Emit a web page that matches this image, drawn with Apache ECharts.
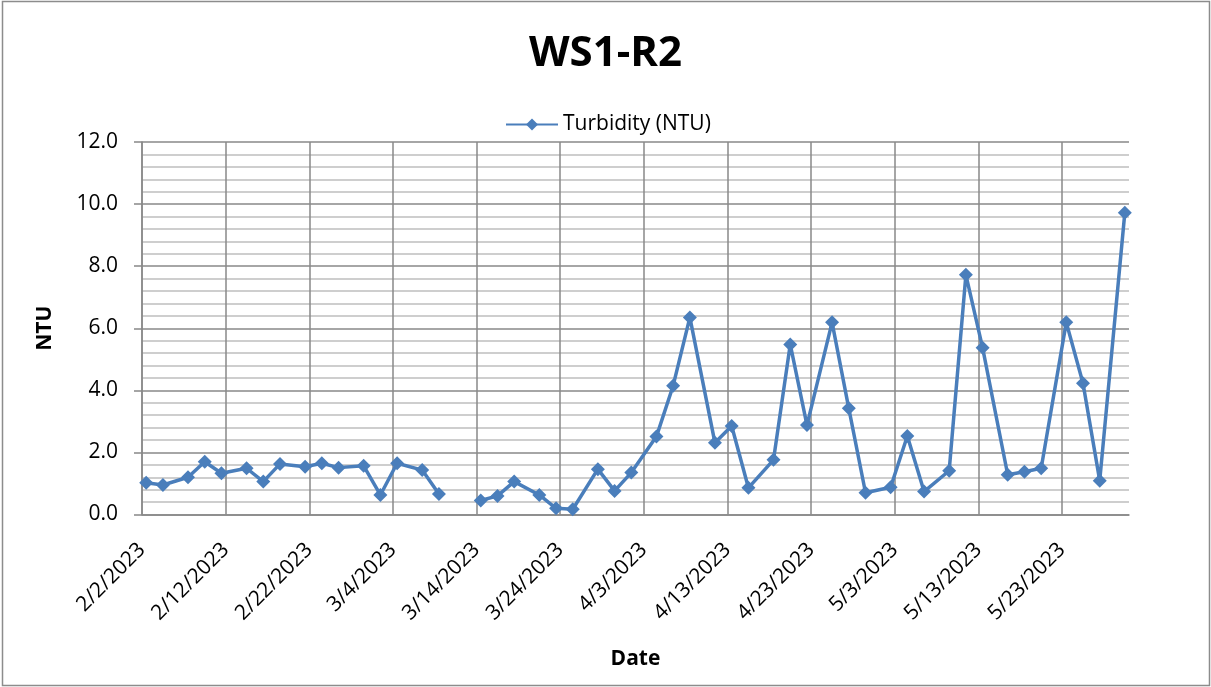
<!DOCTYPE html>
<html>
<head>
<meta charset="utf-8">
<script src="https://cdn.jsdelivr.net/npm/echarts@6/dist/echarts.min.js"></script>
<style>
  html, body { margin: 0; padding: 0; background: #fff; }
  #WS1Chart { width: 1211px; height: 687px; }
</style>
</head>
<body>
<div id="WS1Chart"></div>
<script>
// sample dates (blank entry on 3/11 breaks the line like the source sheet)
const dates = [
  '2/2/2023', '2/4/2023', '2/7/2023', '2/9/2023', '2/11/2023', '2/14/2023',
  '2/16/2023', '2/18/2023', '2/21/2023', '2/23/2023', '2/25/2023', '2/28/2023',
  '3/2/2023', '3/4/2023', '3/7/2023', '3/9/2023', '3/11/2023', '3/14/2023',
  '3/16/2023', '3/18/2023', '3/21/2023', '3/23/2023', '3/25/2023', '3/28/2023',
  '3/30/2023', '4/1/2023', '4/4/2023', '4/6/2023', '4/8/2023', '4/11/2023',
  '4/13/2023', '4/15/2023', '4/18/2023', '4/20/2023', '4/22/2023', '4/25/2023',
  '4/27/2023', '4/29/2023', '5/2/2023', '5/4/2023', '5/6/2023', '5/9/2023',
  '5/11/2023', '5/13/2023', '5/16/2023', '5/18/2023', '5/20/2023', '5/23/2023',
  '5/25/2023', '5/27/2023', '5/30/2023'
];
const turbidity = [
  1.02, 0.95, 1.20, 1.70, 1.33, 1.49,
  1.06, 1.63, 1.54, 1.65, 1.51, 1.57,
  0.63, 1.65, 1.43, 0.66, null, 0.45,
  0.60, 1.06, 0.63, 0.20, 0.17, 1.46,
  0.76, 1.35, 2.51, 4.15, 6.35, 2.31,
  2.85, 0.86, 1.76, 5.48, 2.88, 6.19,
  3.42, 0.70, 0.88, 2.53, 0.74, 1.41,
  7.72, 5.37, 1.28, 1.38, 1.49, 6.19,
  4.23, 1.09, 9.72
];
const startDate = '2/2/2023';
const dayCount = 118;
const dayStep = 10;

const DAY = 86400000;
const toUTC = (s) => {
  const [m, d, y] = s.split('/').map(Number);
  return Date.UTC(y, m - 1, d);
};
const t0 = toUTC(startDate);
// each date sits in the middle of its day slot
const seriesData = dates.map((d, i) => [
  (toUTC(d) - t0) / DAY + 0.5,
  turbidity[i] == null ? '-' : turbidity[i]
]);

const fmtDay = (v) => {
  if (v % dayStep !== 0) return '';
  const dt = new Date(t0 + v * DAY);
  return (dt.getUTCMonth() + 1) + '/' + dt.getUTCDate() + '/' + dt.getUTCFullYear();
};

const FONT = "'Open Sans', sans-serif";
const chart = echarts.init(document.getElementById('WS1Chart'));

const option = {
  backgroundColor: '#fff',
  animation: false,
  color: ['#4A7EBB'],
  graphic: [{
    type: 'rect',
    shape: { x: 2.5, y: 1.5, width: 1207, height: 684 },
    style: { fill: 'none', stroke: '#8c8c8c', lineWidth: 1.5 },
    silent: true
  }],
  title: {
    text: 'WS1-R2',
    left: 'center',
    top: 28,
    textStyle: { fontFamily: FONT, fontSize: 42, fontWeight: 'bold', color: '#000' }
  },
  legend: {
    top: 109,
    left: 500,
    itemWidth: 52,
    itemHeight: 15,
    itemGap: 5,
    textStyle: { fontFamily: FONT, fontSize: 21, color: '#000' }
  },
  grid: { left: 142, right: 82, top: 142, bottom: 172.5, containLabel: false },
  xAxis: {
    type: 'value',
    min: 0,
    max: dayCount,
    interval: dayStep,
    name: 'Date',
    nameLocation: 'middle',
    nameGap: 134,
    nameTextStyle: { fontFamily: FONT, fontSize: 21, fontWeight: 'bold', color: '#000' },
    axisLine: { show: true, lineStyle: { color: '#888', width: 1.5 } },
    axisTick: { show: false },
    axisLabel: {
      rotate: 45,
      margin: 32,
      showMaxLabel: false,
      fontFamily: FONT,
      fontSize: 21,
      color: '#000',
      formatter: fmtDay
    },
    splitLine: { show: true, showMaxLine: false, lineStyle: { color: '#888', width: 1.5 } }
  },
  yAxis: {
    type: 'value',
    min: 0,
    max: 12,
    interval: 2,
    name: 'NTU',
    nameLocation: 'middle',
    nameGap: 86,
    nameTextStyle: { fontFamily: FONT, fontSize: 21, fontWeight: 'bold', color: '#000' },
    axisLine: { show: true, lineStyle: { color: '#888', width: 1.5 } },
    axisTick: { show: true, inside: false, length: 8, lineStyle: { color: '#888', width: 1.5 } },
    axisLabel: {
      margin: 24,
      fontFamily: FONT,
      fontSize: 21,
      color: '#000',
      formatter: (v) => v.toFixed(1)
    },
    splitLine: { show: true, lineStyle: { color: '#888', width: 1.5 } },
    minorTick: { show: false, splitNumber: 5 },
    minorSplitLine: { show: true, lineStyle: { color: '#bfbfbf', width: 1.5 } }
  },
  series: [{
    name: 'Turbidity (NTU)',
    type: 'line',
    data: seriesData,
    symbol: 'diamond',
    symbolSize: 14,
    connectNulls: false,
    lineStyle: { width: 3.5, color: '#4A7EBB' },
    itemStyle: { color: '#4A7EBB' }
  }]
};

chart.setOption(option);
window.addEventListener('resize', () => chart.resize());
</script>
</body>
</html>
